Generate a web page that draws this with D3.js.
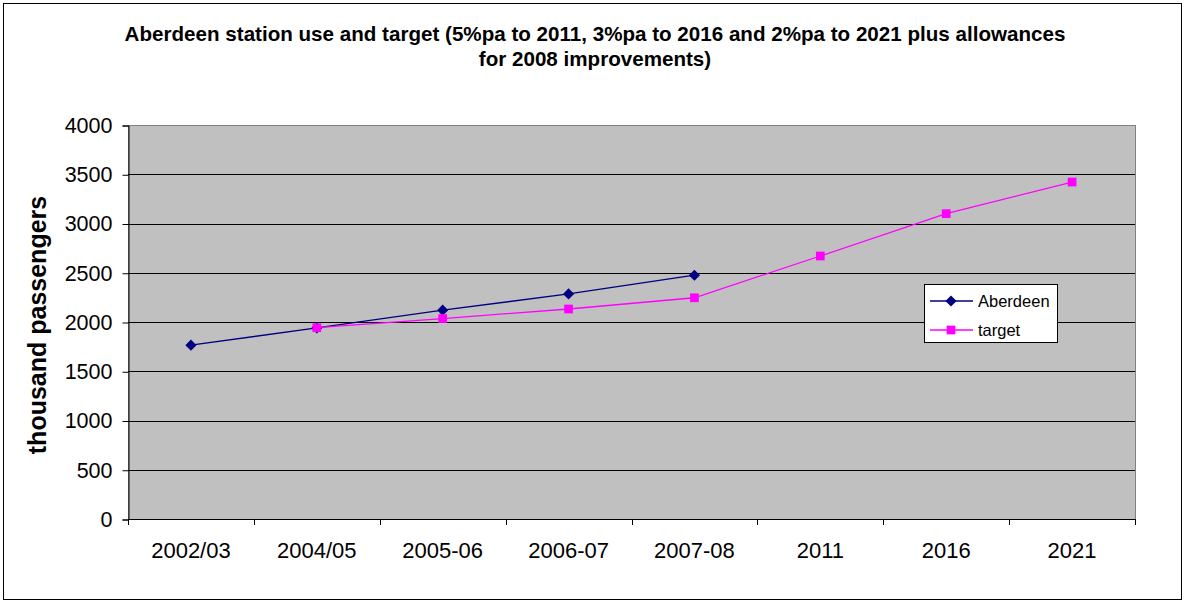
<!DOCTYPE html>
<html>
<head>
<meta charset="utf-8">
<script src="https://cdn.jsdelivr.net/npm/d3@7"></script>
<style>
  body { margin: 0; background: #fff; }
  text { font-family: "Liberation Sans", Arial, sans-serif; }
</style>
</head>
<body>
<svg width="1186" height="603"></svg>
<script>
var categories = ["2002/03", "2004/05", "2005-06", "2006-07", "2007-08", "2011", "2016", "2021"];
var aberdeen = [1765, 1940, 2120, 2285, 2475, null, null, null];
var target = [null, 1942, 2035, 2132, 2246, 2670, 3100, 3421];
var yTicks = [0, 500, 1000, 1500, 2000, 2500, 3000, 3500, 4000];

var svg = d3.select("svg");

// outer chart border
svg.append("rect")
    .attr("x", 3.5).attr("y", 3.5)
    .attr("width", 1178).attr("height", 596)
    .attr("fill", "#fff").attr("stroke", "#000").attr("stroke-width", 1);

var pLeft = 128, pRight = 1135, pTop = 125, pBottom = 519;

var x = d3.scaleBand().domain(categories).range([pLeft, pRight]);
var y = d3.scaleLinear().domain([0, 4000]).range([pBottom, pTop]);

// plot area
svg.append("rect")
    .attr("x", pLeft + 0.5).attr("y", pTop + 0.5)
    .attr("width", pRight - pLeft).attr("height", pBottom - pTop)
    .attr("fill", "#c0c0c0").attr("stroke", "#808080").attr("stroke-width", 1);

// gridlines
svg.append("g").selectAll("line")
    .data(yTicks.filter(d => d > 0 && d < 4000))
    .enter().append("line")
    .attr("x1", pLeft).attr("x2", pRight)
    .attr("y1", d => Math.round(y(d)) + 0.5).attr("y2", d => Math.round(y(d)) + 0.5)
    .attr("stroke", "#000").attr("stroke-width", 1);

// y axis
var yAxis = d3.axisLeft(y).tickValues(yTicks).tickFormat(d3.format("d")).tickSize(6).tickPadding(10);
var gy = svg.append("g").attr("transform", "translate(" + (pLeft + 0.5) + ",0.5)").call(yAxis);
gy.select(".domain").attr("stroke", "#000");
gy.selectAll("text").attr("font-size", 21.5).attr("fill", "#000")
    .attr("font-family", "Liberation Sans, Arial, sans-serif");

// x axis: ticks at category boundaries
var gx = svg.append("g").attr("transform", "translate(0," + pBottom + ")");
gx.append("line").attr("x1", pLeft).attr("x2", pRight).attr("y1", 0.5).attr("y2", 0.5).attr("stroke", "#000");
var bounds = categories.map(c => x(c)).concat([pRight]);
gx.selectAll("line.tk").data(bounds).enter().append("line")
    .attr("class", "tk")
    .attr("x1", d => Math.round(d) + 0.5).attr("x2", d => Math.round(d) + 0.5)
    .attr("y1", 0).attr("y2", 6).attr("stroke", "#000");
gx.selectAll("text").data(categories).enter().append("text")
    .attr("x", d => x(d) + x.bandwidth() / 2)
    .attr("y", 39)
    .attr("text-anchor", "middle")
    .attr("font-size", 22)
    .text(d => d);

// y label
svg.append("text")
    .attr("transform", "translate(46,325) rotate(-90)")
    .attr("text-anchor", "middle")
    .attr("font-size", 25).attr("font-weight", "bold")
    .text("thousand passengers");

// title
var title = ["Aberdeen station use and target (5%pa to 2011, 3%pa to 2016 and 2%pa to 2021 plus allowances",
             "for 2008 improvements)"];
svg.append("g").selectAll("text").data(title).enter().append("text")
    .attr("x", 595).attr("y", (d, i) => 41 + i * 25)
    .attr("text-anchor", "middle")
    .attr("font-size", 20.6).attr("font-weight", "bold")
    .text(d => d);

// lines
var cx = d => x(d) + x.bandwidth() / 2;
var line = d3.line()
    .defined(d => d.v != null)
    .x(d => cx(d.c)).y(d => y(d.v));

var series = [
  { name: "Aberdeen", values: aberdeen, color: "#000080", shape: d3.symbolSquare, size: 62, rot: 45 },
  { name: "target", values: target, color: "#ff00ff", shape: d3.symbolSquare, size: 76, rot: 0 }
];

series.forEach(function(s) {
  var pts = categories.map((c, i) => ({ c: c, v: s.values[i] }));
  svg.append("path").datum(pts)
      .attr("fill", "none").attr("stroke", s.color).attr("stroke-width", 1.3)
      .attr("d", line);
  svg.append("g").selectAll("path")
      .data(pts.filter(d => d.v != null))
      .enter().append("path")
      .attr("transform", d => "translate(" + cx(d.c) + "," + y(d.v) + ") rotate(" + s.rot + ")")
      .attr("d", d3.symbol().type(s.shape).size(s.size))
      .attr("fill", s.color);
});

// legend
var lg = svg.append("g").attr("transform", "translate(924,284)");
lg.append("rect").attr("x", 0.5).attr("y", 0.5).attr("width", 133).attr("height", 58)
    .attr("fill", "#fff").attr("stroke", "#000");
series.forEach(function(s, i) {
  var ly = 17 + i * 29;
  lg.append("line").attr("x1", 6).attr("x2", 49).attr("y1", ly).attr("y2", ly)
      .attr("stroke", s.color).attr("stroke-width", 1.3);
  lg.append("path").attr("transform", "translate(27," + ly + ") rotate(" + s.rot + ")")
      .attr("d", d3.symbol().type(s.shape).size(s.size)).attr("fill", s.color);
  lg.append("text").attr("x", 54).attr("y", ly + 6).attr("font-size", 16.5).text(s.name);
});
</script>
</body>
</html>
